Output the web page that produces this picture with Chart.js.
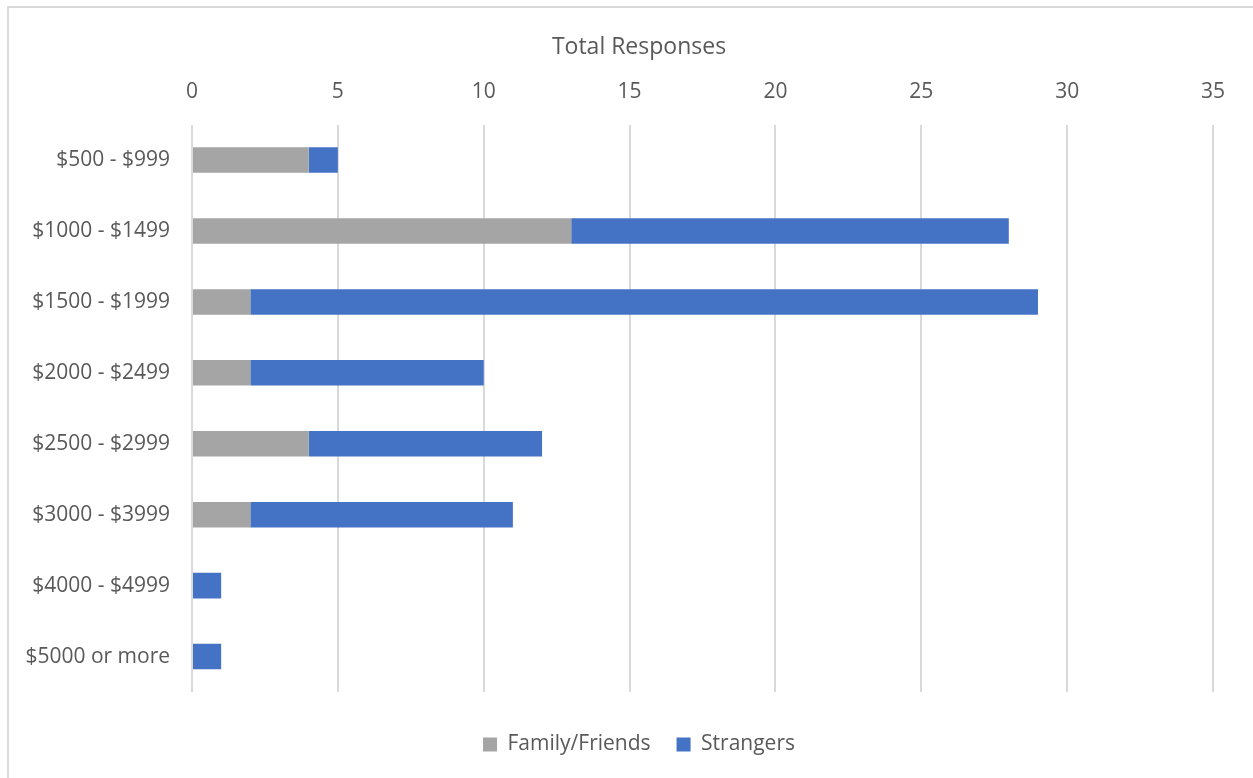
<!DOCTYPE html>
<html>
<head>
<meta charset="utf-8">
<script src="https://cdn.jsdelivr.net/npm/chart.js@4.4.1/dist/chart.umd.min.js"></script>
<style>
  html, body { margin: 0; padding: 0; background: #fff; overflow: hidden; }
  #frame {
    position: absolute; left: 7px; top: 6px;
    width: 1270px; height: 800px;
    border: 2px solid #d9d9d9;
    box-sizing: border-box;
  }
  #wrap { position: absolute; left: 0; top: 0; width: 1253px; height: 778px; }
</style>
</head>
<body>
<div id="frame"></div>
<div id="wrap"><canvas id="chart"></canvas></div>
<script>
// price ranges and response counts
const priceRanges = [
  "$500 - $999", "$1000 - $1499", "$1500 - $1999", "$2000 - $2499",
  "$2500 - $2999", "$3000 - $3999", "$4000 - $4999", "$5000 or more"
];
const familyFriends = [4, 13, 2, 2, 4, 2, 0, 0];
const strangers = [1, 15, 27, 8, 8, 9, 1, 1];

const FONT = "'Open Sans', sans-serif";
const TEXT = "#595959";

// centre title and legend a bit left of the plot, like the Excel layout
const shiftBlocks = {
  id: 'shiftBlocks',
  afterLayout(chart) {
    for (const b of [chart.titleBlock, chart.legend]) {
      if (b) { b.left = 65; b.right = 1213; }
    }
  }
};

const ctx = document.getElementById('chart').getContext('2d');
new Chart(ctx, {
  type: 'bar',
  data: {
    labels: priceRanges,
    datasets: [
      { label: 'Family/Friends', data: familyFriends, backgroundColor: '#a5a5a5',
        categoryPercentage: 1, barPercentage: 0.36 },
      { label: 'Strangers', data: strangers, backgroundColor: '#4472c4',
        categoryPercentage: 1, barPercentage: 0.36 }
    ]
  },
  options: {
    indexAxis: 'y',
    responsive: true,
    maintainAspectRatio: false,
    animation: false,
    layout: { padding: { left: 10, right: 40, top: 0, bottom: 13 } },
    scales: {
      x: {
        position: 'top',
        stacked: true,
        min: 0, max: 35,
        ticks: { stepSize: 5, color: TEXT, font: { family: FONT, size: 21 }, padding: 20 },
        grid: { color: '#d9d9d9', lineWidth: 2, drawTicks: false },
        border: { display: false },
        afterFit: s => { s.height = 63; }
      },
      y: {
        stacked: true,
        ticks: { color: TEXT, font: { family: FONT, size: 21 }, padding: 14 },
        grid: { display: false },
        border: { display: false },
        afterFit: s => { s.width = 182; }
      }
    },
    plugins: {
      title: {
        display: true, text: 'Total Responses', color: TEXT,
        font: { family: FONT, size: 23, weight: 'normal' },
        padding: { top: 34, bottom: 0 }
      },
      legend: {
        position: 'bottom',
        title: { display: true, text: ' ', font: { size: 10 }, padding: 2 },
        labels: { color: TEXT, font: { family: FONT, size: 21 }, boxWidth: 14, boxHeight: 14, padding: 26 }
      },
      tooltip: { enabled: false }
    }
  },
  plugins: [shiftBlocks]
});
</script>
</body>
</html>
